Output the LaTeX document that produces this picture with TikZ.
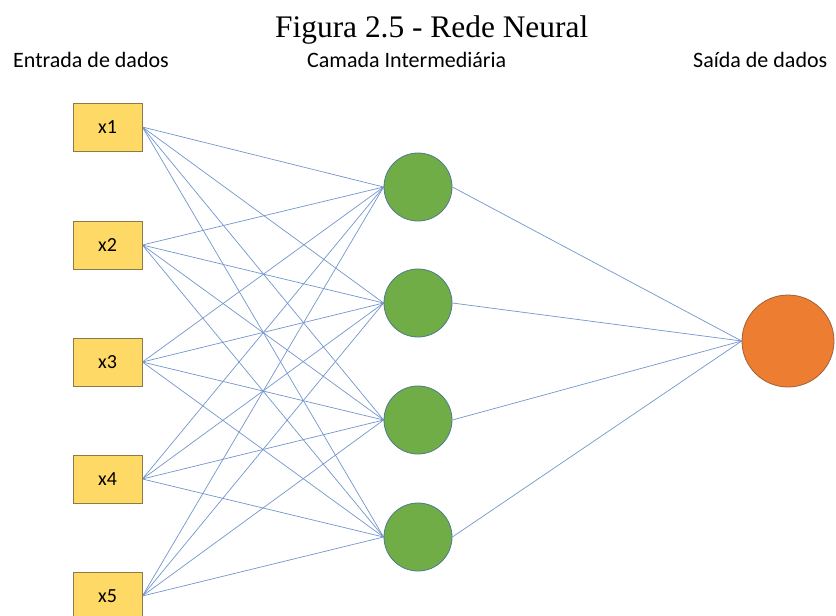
\documentclass[tikz,border=0pt]{standalone}
\usepackage{fontspec}
\setmainfont{Liberation Serif}
\newfontfamily\calfont{Carlito}
\usetikzlibrary{backgrounds}
\definecolor{boxfill}{HTML}{FFD966}
\definecolor{boxline}{HTML}{8C7A4A}
\definecolor{hidfill}{HTML}{70AD47}
\definecolor{hidline}{HTML}{4E7A8C}
\definecolor{outfill}{HTML}{ED7D31}
\definecolor{outline}{HTML}{A0603A}
\definecolor{wire}{HTML}{7396CF}
\begin{document}
\begin{tikzpicture}[x=1pt,y=-1pt,
  inbox/.style={draw=boxline,fill=boxfill,line width=0.8pt,minimum width=69pt,minimum height=48pt,inner sep=0pt,font=\calfont\fontsize{20}{22}\selectfont},
  hid/.style={circle,draw=hidline,fill=hidfill,line width=0.8pt,minimum size=68pt,inner sep=0pt},
  outn/.style={circle,draw=outline,fill=outfill,line width=0.8pt,minimum size=92pt,inner sep=0pt},
  wirestyle/.style={draw=wire,line width=0.7pt},
  lab/.style={font=\calfont\fontsize{22}{24}\selectfont,inner sep=0pt,anchor=base west}]
\useasboundingbox (0,0) rectangle (836,616);
\node[font=\fontsize{31.4}{33}\selectfont,inner sep=0pt,anchor=base west] (title) at (275,37) {Figura 2.5 - Rede Neural};
\node[lab] (lin) at (13,67) {Entrada de dados};
\node[lab] (lhid) at (307,67) {Camada Intermediária};
\node[lab] (lout) at (693,67) {Saída de dados};
\foreach \i/\y in {1/127,2/245,3/362,4/479,5/596}
  \node[inbox] (x\i) at (107.5,\y) {x\i};
\foreach \j/\y in {1/187,2/303,3/420,4/537}
  \node[hid] (h\j) at (418,\y) {};
\node[outn] (o) at (788,341) {};
\begin{scope}[on background layer]
\fill[white] (0,0) rectangle (836,616);
\foreach \i in {1,...,5}
  \foreach \j in {1,...,4}
    \draw[wirestyle] (x\i.east) -- (h\j.west);
\foreach \j in {1,...,4}
  \draw[wirestyle] (h\j.east) -- (o.west);
\end{scope}
\end{tikzpicture}
\end{document}
